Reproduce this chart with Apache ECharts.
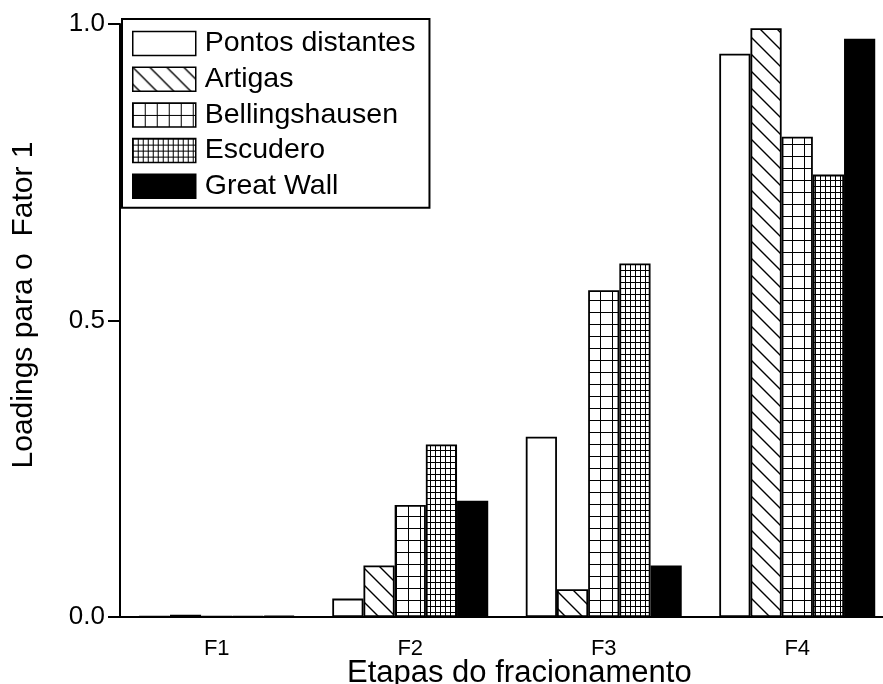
<!DOCTYPE html>
<html>
<head>
<meta charset="utf-8">
<script src="https://cdn.jsdelivr.net/npm/echarts@6/dist/echarts.min.js"></script>
<style>
  html, body { margin: 0; padding: 0; background: #fff; }
  #chart { width: 883px; height: 684px; }
</style>
</head>
<body>
<div id="chart"></div>
<script>
// Fractionation stages and factor-1 loadings per site
const categories = ['F1', 'F2', 'F3', 'F4'];
const seriesNames = ['Pontos distantes', 'Artigas', 'Bellingshausen', 'Escudero', 'Great Wall'];
const pontosDistantes = [0.001, 0.031, 0.304, 0.950];
const artigas = [0.004, 0.087, 0.047, 0.993];
const bellingshausen = [0.001, 0.189, 0.551, 0.810];
const escudero = [0.001, 0.291, 0.596, 0.746];
const greatWall = [0.002, 0.196, 0.087, 0.975];
const yTicks = [0, 0.5, 1.0];

const FONT = '"Liberation Sans", Arial, sans-serif';

// Hatch fills built on small tiles
function makeTile(w, h, lw, draw) {
  const c = document.createElement('canvas');
  c.width = w; c.height = h;
  const ctx = c.getContext('2d');
  ctx.fillStyle = '#fff';
  ctx.fillRect(0, 0, w, h);
  ctx.strokeStyle = '#000';
  ctx.lineWidth = lw;
  draw(ctx, w, h);
  return { image: c, repeat: 'repeat' };
}
const diagonalFill = makeTile(17, 17, 1.4, (ctx, w, h) => {
  ctx.beginPath();
  ctx.moveTo(-1, -1); ctx.lineTo(w + 1, h + 1);
  ctx.moveTo(w - 2, -2); ctx.lineTo(w + 2, 2);
  ctx.moveTo(-2, h - 2); ctx.lineTo(2, h + 2);
  ctx.stroke();
});
const gridFill = makeTile(12, 12, 1, (ctx, w, h) => {
  ctx.beginPath();
  ctx.moveTo(0.5, 0); ctx.lineTo(0.5, h);
  ctx.moveTo(0, 0.5); ctx.lineTo(w, 0.5);
  ctx.stroke();
});
const fineGridFill = makeTile(5, 6, 1, (ctx, w, h) => {
  ctx.beginPath();
  ctx.moveTo(0.5, 0); ctx.lineTo(0.5, h);
  ctx.moveTo(0, 0.5); ctx.lineTo(w, 0.5);
  ctx.stroke();
});

const fills = ['#ffffff', diagonalFill, gridFill, fineGridFill, '#000000'];
const values = [pontosDistantes, artigas, bellingshausen, escudero, greatWall];

const chart = echarts.init(document.getElementById('chart'), null, { renderer: 'canvas' });

chart.setOption({
  backgroundColor: '#ffffff',
  animation: false,
  grid: { left: 120, width: 774, top: 24, bottom: 67, containLabel: false, outerBoundsMode: 'none' },
  legend: {
    orient: 'vertical',
    left: 122,
    top: 19,
    itemWidth: 63,
    itemHeight: 24,
    itemGap: 6.7,
    padding: [10, 14, 7, 10],
    borderColor: '#000',
    borderWidth: 2,
    backgroundColor: '#fff',
    icon: 'rect',
    itemStyle: { borderColor: '#000', borderWidth: 1.5 },
    textStyle: { fontFamily: FONT, fontSize: 28.5, color: '#000', lineHeight: 24, padding: [0, 0, 0, 4] },
    data: seriesNames
  },
  xAxis: {
    type: 'category',
    data: categories,
    axisLine: { lineStyle: { color: '#000', width: 2 } },
    axisTick: { alignWithLabel: true, length: 11, lineStyle: { color: '#000', width: 2 } },
    axisLabel: { fontFamily: FONT, fontSize: 22, color: '#000', margin: 21 },
    splitLine: { show: false }
  },
  yAxis: {
    type: 'value',
    min: 0,
    max: 1,
    interval: 0.5,
    axisLine: { show: true, lineStyle: { color: '#000', width: 2 } },
    axisTick: { show: true, length: 12, lineStyle: { color: '#000', width: 2 } },
    axisLabel: {
      fontFamily: FONT, fontSize: 26, color: '#000', margin: 15,
      formatter: v => yTicks.includes(v) ? v.toFixed(1) : ''
    },
    splitLine: { show: false }
  },
  graphic: [
    {
      type: 'text',
      x: 24, y: 305,
      rotation: Math.PI / 2,
      style: {
        text: 'Loadings para o  Fator 1',
        font: '30px ' + FONT,
        fill: '#000',
        align: 'center',
        verticalAlign: 'middle'
      }
    },
    {
      type: 'text',
      left: 347, top: 658,
      style: {
        text: 'Etapas do fracionamento',
        font: '31px ' + FONT,
        fill: '#000'
      }
    }
  ],
  series: seriesNames.map((name, i) => ({
    name: name,
    type: 'bar',
    data: values[i],
    barGap: '0%',
    barCategoryGap: '19.4%',
    itemStyle: { color: fills[i], borderColor: '#000', borderWidth: 1.8 }
  }))
});
</script>
</body>
</html>
